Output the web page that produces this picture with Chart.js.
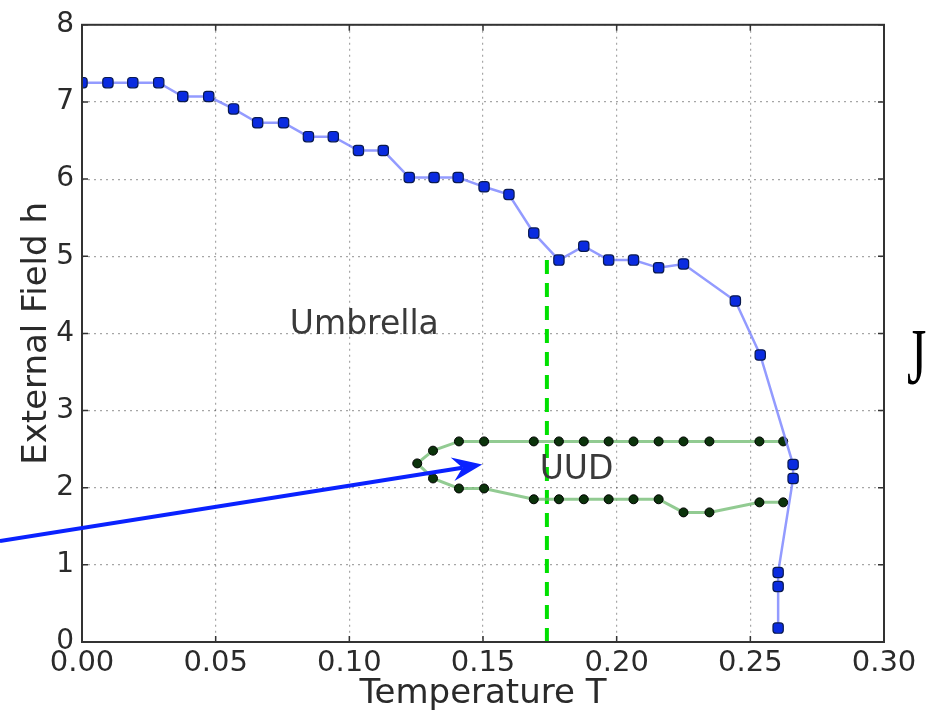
<!DOCTYPE html>
<html>
<head>
<meta charset="utf-8">
<script src="https://cdn.jsdelivr.net/npm/chart.js@4/dist/chart.umd.min.js"></script>
<style>
  html, body { margin: 0; padding: 0; background: #fff; }
  #wrap { width: 927px; height: 715px; }
</style>
</head>
<body>
<div id="wrap"><canvas id="c" width="927" height="715"></canvas></div>
<script>
// ---- data ----
const umbrellaT = [0.0, 0.0097, 0.019, 0.0287, 0.0377, 0.0474, 0.0567, 0.0657, 0.0754, 0.0847, 0.094, 0.1034, 0.1127, 0.1224, 0.1317, 0.1407, 0.1504, 0.1597, 0.169, 0.1784, 0.1877, 0.197, 0.2063, 0.2157, 0.225, 0.2444, 0.2537, 0.266, 0.266, 0.2604, 0.2604, 0.2604];
const umbrellaH = [7.25, 7.25, 7.25, 7.25, 7.07, 7.07, 6.91, 6.73, 6.73, 6.55, 6.55, 6.37, 6.37, 6.02, 6.02, 6.02, 5.90, 5.80, 5.30, 4.95, 5.13, 4.95, 4.95, 4.85, 4.90, 4.42, 3.72, 2.30, 2.12, 0.90, 0.72, 0.18];
const uudT = [0.2623, 0.2534, 0.2347, 0.225, 0.2157, 0.2063, 0.197, 0.1877, 0.1784, 0.169, 0.1504, 0.141, 0.1313, 0.1254, 0.1313, 0.141, 0.1504, 0.169, 0.1784, 0.1877, 0.197, 0.2063, 0.2157, 0.225, 0.2347, 0.2534, 0.2623];
const uudH = [2.60, 2.60, 2.60, 2.60, 2.60, 2.60, 2.60, 2.60, 2.60, 2.60, 2.60, 2.60, 2.48, 2.315, 2.12, 1.99, 1.99, 1.85, 1.85, 1.85, 1.85, 1.85, 1.85, 1.68, 1.68, 1.81, 1.81];
const dividerT = [0.1739, 0.1739];
const dividerH = [0.0, 5.05];
const xTickValues = [0, 0.05, 0.10, 0.15, 0.20, 0.25, 0.30];
const xTickLabels = ['0.00', '0.05', '0.10', '0.15', '0.20', '0.25', '0.30'];
const yTickValues = [0, 1, 2, 3, 4, 5, 6, 7, 8];
const yTickLabels = ['0', '1', '2', '3', '4', '5', '6', '7', '8'];
const regionLabels = ['Umbrella', 'UUD'];
const regionLabelT = [0.1056, 0.185];
const regionLabelH = [3.99, 2.11];
const arrowT = [-0.0307, 0.1497];
const arrowH = [1.31, 2.30];
const xTitle = 'Temperature T';
const yTitle = 'External Field h';
const sideLetter = 'J';

const toPts = (xs, ys) => xs.map((x, i) => ({x: x, y: ys[i]}));

const decor = {
  id: 'decor',
  afterDatasetsDraw(chart) {
    const {ctx, chartArea: a, scales: {x, y}} = chart;
    ctx.save();
    // frame
    ctx.strokeStyle = '#333';
    ctx.lineWidth = 2;
    ctx.strokeRect(a.left, a.top, a.right - a.left, a.bottom - a.top);
    // inward ticks on all sides
    ctx.lineWidth = 1.5;
    ctx.beginPath();
    xTickValues.forEach(v => {
      const px = x.getPixelForValue(v);
      ctx.moveTo(px, a.bottom); ctx.lineTo(px, a.bottom - 6);
      ctx.moveTo(px, a.top); ctx.lineTo(px, a.top + 6);
    });
    yTickValues.forEach(v => {
      const py = y.getPixelForValue(v);
      ctx.moveTo(a.left, py); ctx.lineTo(a.left + 6, py);
      ctx.moveTo(a.right, py); ctx.lineTo(a.right - 6, py);
    });
    ctx.stroke();
    // region labels
    ctx.fillStyle = '#3a3a3a';
    ctx.font = '33px "DejaVu Sans"';
    ctx.textAlign = 'center';
    ctx.textBaseline = 'alphabetic';
    regionLabels.forEach((t, i) => {
      ctx.fillText(t, x.getPixelForValue(regionLabelT[i]), y.getPixelForValue(regionLabelH[i]));
    });
    // arrow
    const x0 = x.getPixelForValue(arrowT[0]), y0 = y.getPixelForValue(arrowH[0]);
    const x1 = x.getPixelForValue(arrowT[1]), y1 = y.getPixelForValue(arrowH[1]);
    const ang = Math.atan2(y1 - y0, x1 - x0);
    const headLen = 26, headW = 12;
    const bx = x1 - headLen * Math.cos(ang), by = y1 - headLen * Math.sin(ang);
    ctx.strokeStyle = '#0a22ff';
    ctx.fillStyle = '#0a22ff';
    ctx.lineWidth = 4;
    ctx.beginPath();
    ctx.moveTo(x0, y0);
    ctx.lineTo(bx + 6 * Math.cos(ang), by + 6 * Math.sin(ang));
    ctx.stroke();
    ctx.beginPath();
    ctx.moveTo(x1, y1);
    ctx.lineTo(bx - headW * Math.sin(ang) - 4 * Math.cos(ang), by + headW * Math.cos(ang) - 4 * Math.sin(ang));
    ctx.lineTo(bx + 6 * Math.cos(ang), by + 6 * Math.sin(ang));
    ctx.lineTo(bx + headW * Math.sin(ang) - 4 * Math.cos(ang), by - headW * Math.cos(ang) - 4 * Math.sin(ang));
    ctx.closePath();
    ctx.fill();
    // side letter
    ctx.fillStyle = '#000';
    ctx.font = '80px "Liberation Serif"';
    ctx.textAlign = 'left';
    ctx.textBaseline = 'alphabetic';
    ctx.translate(a.right + 23, y.getPixelForValue(3.35));
    ctx.scale(0.62, 1);
    ctx.fillText(sideLetter, 0, 0);
    ctx.restore();
  }
};

const gridStyle = {
  color: 'rgba(0,0,0,0.35)',
  lineWidth: 1.2,
  drawTicks: false
};

new Chart(document.getElementById('c'), {
  type: 'scatter',
  data: {
    datasets: [
      {
        label: 'divider',
        data: toPts(dividerT, dividerH),
        showLine: true,
        borderColor: '#00e000',
        borderWidth: 4,
        borderDash: [14, 9],
        pointRadius: 0,
        order: 3
      },
      {
        label: 'UUD',
        data: toPts(uudT, uudH),
        showLine: true,
        borderColor: 'rgba(110,185,110,0.75)',
        borderWidth: 3,
        pointRadius: 4.5,
        pointBackgroundColor: '#0b330b',
        pointBorderColor: '#000',
        pointBorderWidth: 1,
        order: 2
      },
      {
        label: 'Umbrella',
        data: toPts(umbrellaT, umbrellaH),
        showLine: true,
        borderColor: 'rgba(120,130,255,0.8)',
        borderWidth: 2.5,
        pointStyle: 'rectRounded',
        pointRadius: 6,
        pointBackgroundColor: '#0a2be0',
        pointBorderColor: '#0a1a50',
        pointBorderWidth: 1.2,
        order: 1
      }
    ]
  },
  options: {
    responsive: false,
    animation: false,
    devicePixelRatio: 1,
    layout: { padding: { top: 20, right: 43, left: 0, bottom: 0 } },
    plugins: { legend: { display: false }, tooltip: { enabled: false } },
    scales: {
      x: {
        type: 'linear',
        min: 0, max: 0.3,
        afterFit: s => { s.height = 73; },
        afterBuildTicks: s => { s.ticks = xTickValues.map(v => ({value: v})); },
        ticks: {
          autoSkip: false,
          maxRotation: 0,
          padding: 4,
          color: '#2a2a2a',
          font: { family: 'DejaVu Sans', size: 29 },
          callback: (v) => xTickLabels[xTickValues.findIndex(t => Math.abs(t - v) < 1e-9)]
        },
        grid: gridStyle,
        border: { display: false, dash: [2, 4] },
        title: {
          display: true,
          text: xTitle,
          color: '#2a2a2a',
          font: { family: 'DejaVu Sans', size: 34, lineHeight: 1 },
          padding: { top: 0, bottom: 4 }
        }
      },
      y: {
        type: 'linear',
        min: 0, max: 8,
        afterFit: s => { s.width = 82; },
        afterBuildTicks: s => { s.ticks = yTickValues.map(v => ({value: v})); },
        ticks: {
          autoSkip: false,
          padding: 8,
          color: '#2a2a2a',
          font: { family: 'DejaVu Sans', size: 28 },
          callback: (v) => yTickLabels[yTickValues.indexOf(v)]
        },
        grid: gridStyle,
        border: { display: false, dash: [2, 4] },
        title: {
          display: true,
          text: yTitle,
          color: '#2a2a2a',
          font: { family: 'DejaVu Sans', size: 34, lineHeight: 1 },
          padding: { top: 20, bottom: 0 }
        }
      }
    }
  },
  plugins: [decor]
});
</script>
</body>
</html>
